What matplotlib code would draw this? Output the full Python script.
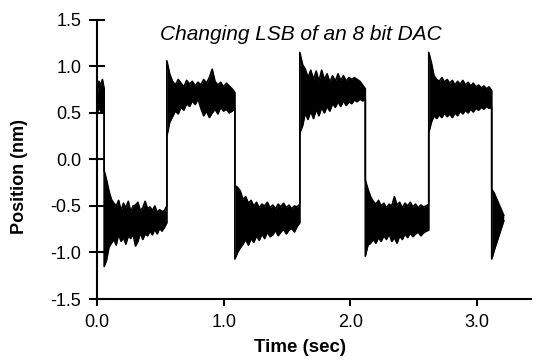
import matplotlib.pyplot as plt
import numpy as np

# Segment boundaries (sec) and envelope of the noisy position trace (nm),
# read off the reference: each segment gets its own upper/lower edge values.
seg_start = [0.000, 0.055, 0.550, 1.087, 1.600, 2.117, 2.618, 3.115]
seg_end = [0.055, 0.550, 1.087, 1.600, 2.117, 2.618, 3.115, 3.210]

upper_0 = [0.70, 0.84, 0.80, 0.86, 0.76]
lower_0 = [0.50, 0.56, 0.52, 0.50, 0.50]

upper_1 = [-0.12, -0.22, -0.34, -0.43, -0.47, -0.50, -0.44, -0.55, -0.47,
           -0.52, -0.45, -0.56, -0.50, -0.49, -0.46, -0.55, -0.52, -0.45,
           -0.53, -0.51, -0.55, -0.50, -0.57, -0.54, -0.56, -0.55, -0.50]
lower_1 = [-1.15, -1.08, -0.94, -0.90, -0.86, -0.92, -0.80, -0.88, -0.84,
           -0.91, -0.82, -0.85, -0.80, -0.93, -0.88, -0.79, -0.86, -0.80,
           -0.82, -0.77, -0.81, -0.75, -0.80, -0.74, -0.77, -0.73, -0.68]

upper_2 = [1.06, 0.92, 0.84, 0.80, 0.86, 0.82, 0.78, 0.85, 0.81, 0.84,
           0.79, 0.83, 0.80, 0.86, 0.82, 0.88, 0.97, 0.84, 0.80, 0.83,
           0.78, 0.82, 0.79, 0.76, 0.72]
lower_2 = [0.25, 0.40, 0.46, 0.52, 0.49, 0.56, 0.53, 0.60, 0.57, 0.63,
           0.59, 0.65, 0.55, 0.47, 0.52, 0.45, 0.50, 0.54, 0.49, 0.56,
           0.52, 0.54, 0.50, 0.52, 0.55]

upper_3 = [-0.28, -0.30, -0.34, -0.43, -0.40, -0.47, -0.44, -0.50, -0.46,
           -0.52, -0.48, -0.50, -0.46, -0.52, -0.49, -0.53, -0.48, -0.51,
           -0.47, -0.52, -0.49, -0.53, -0.50, -0.51, -0.48]
lower_3 = [-1.07, -1.00, -0.95, -0.91, -0.86, -0.92, -0.85, -0.89, -0.82,
           -0.87, -0.80, -0.85, -0.78, -0.83, -0.81, -0.76, -0.82, -0.78,
           -0.75, -0.80, -0.76, -0.74, -0.78, -0.72, -0.68]

upper_4 = [1.15, 1.02, 0.97, 0.88, 0.96, 0.86, 0.95, 0.84, 0.96, 0.86,
           0.92, 0.83, 0.90, 0.84, 0.92, 0.85, 0.90, 0.84, 0.88, 0.86,
           0.88, 0.86, 0.84, 0.80, 0.76]
lower_4 = [0.29, 0.36, 0.50, 0.43, 0.52, 0.44, 0.54, 0.47, 0.56, 0.50,
           0.57, 0.52, 0.60, 0.56, 0.62, 0.57, 0.63, 0.58, 0.62, 0.60,
           0.64, 0.62, 0.65, 0.63, 0.64]

upper_5 = [-0.22, -0.32, -0.40, -0.45, -0.48, -0.44, -0.50, -0.47, -0.52,
           -0.48, -0.50, -0.40, -0.49, -0.46, -0.52, -0.47, -0.50, -0.46,
           -0.51, -0.48, -0.52, -0.49, -0.51, -0.50, -0.48]
lower_5 = [-1.04, -0.92, -0.90, -0.86, -0.90, -0.84, -0.88, -0.82, -0.86,
           -0.80, -0.88, -0.84, -0.90, -0.82, -0.86, -0.80, -0.84, -0.79,
           -0.83, -0.80, -0.78, -0.82, -0.79, -0.77, -0.76]

upper_6 = [1.15, 1.04, 0.90, 0.86, 0.84, 0.88, 0.83, 0.86, 0.82, 0.85,
           0.80, 0.84, 0.81, 0.85, 0.80, 0.83, 0.79, 0.82, 0.78, 0.80,
           0.77, 0.79, 0.76, 0.78, 0.74]
lower_6 = [0.29, 0.40, 0.47, 0.44, 0.48, 0.45, 0.50, 0.46, 0.49, 0.45,
           0.50, 0.47, 0.52, 0.49, 0.53, 0.50, 0.54, 0.51, 0.55, 0.53,
           0.56, 0.54, 0.57, 0.55, 0.56]

upper_7 = [-0.32, -0.36, -0.42, -0.48, -0.54, -0.60]
lower_7 = [-1.07, -0.98, -0.90, -0.82, -0.74, -0.66]

uppers = [upper_0, upper_1, upper_2, upper_3, upper_4, upper_5, upper_6, upper_7]
lowers = [lower_0, lower_1, lower_2, lower_3, lower_4, lower_5, lower_6, lower_7]

x_ticks = [0.0, 1.0, 2.0, 3.0]
y_ticks = [-1.5, -1.0, -0.5, 0.0, 0.5, 1.0, 1.5]

plt.rcParams['font.family'] = ['Liberation Sans', 'DejaVu Sans']

fig = plt.figure(figsize=(5.37, 3.62), dpi=100)
ax = fig.add_axes([0.181, 0.174, 0.808, 0.771])

# stitch segments together (sample grid inside each segment)
t_all, up_all, lo_all = [], [], []
for t0, t1, up, lo in zip(seg_start, seg_end, uppers, lowers):
    t = np.linspace(t0, t1, len(up))
    t_all.extend(t)
    up_all.extend(up)
    lo_all.extend(lo)

ax.fill_between(t_all, lo_all, up_all, color='black', linewidth=0)
ax.plot(t_all, up_all, color='black', linewidth=1.2)
ax.plot(t_all, lo_all, color='black', linewidth=1.2)

ax.set_xlim(0, 3.426)
ax.set_ylim(-1.5, 1.5)
ax.set_xticks(x_ticks)
ax.set_xticklabels(['%.1f' % v for v in x_ticks])
ax.set_yticks(y_ticks)
ax.set_yticklabels(['%.1f' % v for v in y_ticks])

for side in ['top', 'right']:
    ax.spines[side].set_visible(False)
for side in ['left', 'bottom']:
    ax.spines[side].set_linewidth(1.5)

ax.tick_params(axis='x', direction='out', length=5, width=1.5, pad=6, labelsize=13)
ax.tick_params(axis='y', direction='inout', length=11, width=1.5, pad=6, labelsize=13)

ax.text(0.469, 0.946, 'Changing LSB of an 8 bit DAC', transform=ax.transAxes,
        ha='center', va='center', fontsize=15, style='italic')

fig.text(300 / 537, 1 - 348 / 362, 'Time (sec)', ha='center', va='center',
         fontsize=13.5, fontweight='bold')
fig.text(20 / 537, 1 - 177 / 362, 'Position (nm)', ha='center', va='center',
         rotation=90, fontsize=13, fontweight='bold')

fig.savefig('out.png', dpi=100)
